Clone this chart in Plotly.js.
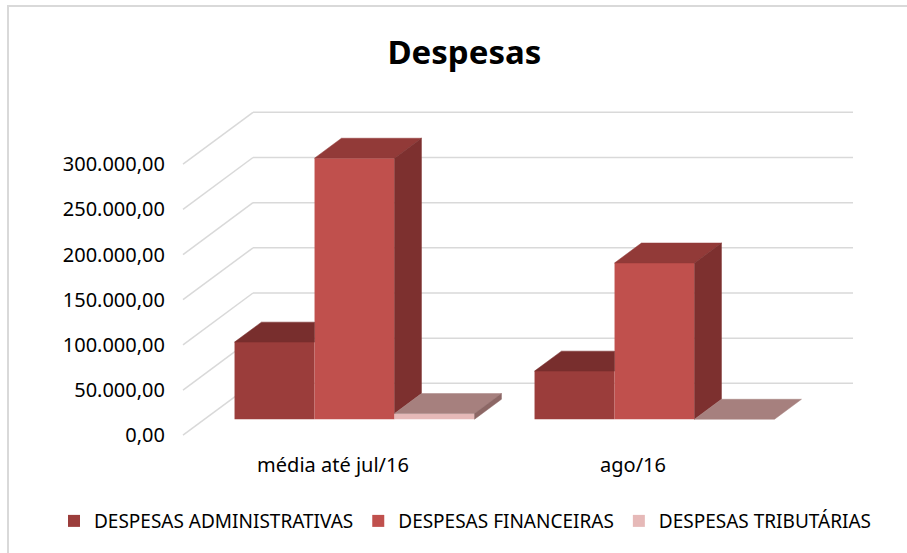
<!DOCTYPE html>
<html>
<head>
<meta charset="utf-8">
<script src="https://cdn.plot.ly/plotly-3.0.1.min.js"></script>
<style>
  html, body { margin: 0; padding: 0; background: #ffffff; }
  #chart { width: 907px; height: 553px; position: relative; }
  #frame { position: absolute; left: 7px; top: 5px; width: 1000px; height: 1000px;
           border-left: 2px solid #d9d9d9; border-top: 2px solid #d9d9d9; pointer-events: none; }
</style>
</head>
<body>
<div id="chart"></div>
<div id="frame"></div>
<script>
// ---- data ----
const categories = ['média até jul/16', 'ago/16'];
const seriesNames = ['DESPESAS ADMINISTRATIVAS', 'DESPESAS FINANCEIRAS', 'DESPESAS TRIBUTÁRIAS'];
const despesasAdministrativas = [85400, 53300];
const despesasFinanceiras = [289000, 173000];
const despesasTributarias = [6300, 0];
const yTickValues = [0, 50000, 100000, 150000, 200000, 250000, 300000];

// ---- styling / geometry ----
const frontColors = ['#9B3D3B', '#C0504D', '#E6B9B8'];
const topColors   = ['#782E2D', '#923A38', '#A6807E'];
const sideColors  = ['#6E2A29', '#7D302F', '#8C6765'];
const gridColor = '#d9d9d9';
const fontFamily = '"Noto Sans", "Open Sans", sans-serif';

const series = [despesasAdministrativas, despesasFinanceiras, despesasTributarias];
const DX = 0.23333;   // full floor depth, in category units
const DY = 57420;     // full floor depth, in value units
const F1 = 0.3077, F2 = 0.6923;  // bar front / back depth fractions
const W = 0.26667;    // bar width (category units)
const bdx = (F2 - F1) * DX, bdy = (F2 - F1) * DY;
const y0 = F1 * DY;

function fmt(v) {
  const s = Math.round(v).toString().replace(/\B(?=(\d{3})+(?!\d))/g, '.');
  return s + ',00';
}

const traces = [];
// front faces as bars
series.forEach((vals, s) => {
  traces.push({
    type: 'bar',
    name: seriesNames[s],
    x: categories.map((c, i) => i + (s - 1) * W + F1 * DX),
    y: vals,
    base: vals.map(() => y0),
    width: vals.map(() => W),
    marker: { color: frontColors[s], line: { width: 0 } },
    hoverinfo: 'skip'
  });
});

// top and side faces
categories.forEach((c, i) => {
  series.forEach((vals, s) => {
    const v = vals[i];
    const xl = i + (s - 1) * W - W / 2 + F1 * DX;
    const xr = xl + W;
    const yf = y0 + v;
    const hasNext = s < series.length - 1;
    const vn = hasNext ? series[s + 1][i] : 0;
    let tx, ty;
    if (hasNext && vn >= v) {
      tx = [xl, xr, xr, xl + bdx, xl];
      ty = [yf, yf, yf + bdy, yf + bdy, yf];
    } else {
      tx = [xl, xr, xr + bdx, xl + bdx, xl];
      ty = [yf, yf, yf + bdy, yf + bdy, yf];
    }
    traces.push({
      type: 'scatter', mode: 'lines', fill: 'toself', x: tx, y: ty,
      fillcolor: topColors[s], line: { color: topColors[s], width: 0.5 },
      showlegend: false, hoverinfo: 'skip'
    });
    if (!(hasNext && vn >= v) && v - vn > 0) {
      const yb = y0 + vn;
      traces.push({
        type: 'scatter', mode: 'lines', fill: 'toself',
        x: [xr, xr, xr + bdx, xr + bdx, xr],
        y: [yb, yf, yf + bdy, yb + bdy, yb],
        fillcolor: sideColors[s], line: { color: sideColors[s], width: 0.5 },
        showlegend: false, hoverinfo: 'skip'
      });
    }
  });
});

// 3D gridlines (side wall diagonals + back wall horizontals)
const xLeft = -0.5, xRight = categories.length - 0.5 + DX;
const shapes = [];
yTickValues.forEach(v => {
  shapes.push({ type: 'line', layer: 'below', xref: 'x', yref: 'y',
    x0: xLeft, y0: v, x1: xLeft + DX, y1: v + DY, line: { color: gridColor, width: 1.5 } });
  shapes.push({ type: 'line', layer: 'below', xref: 'x', yref: 'y',
    x0: xLeft + DX, y0: v + DY, x1: xRight, y1: v + DY, line: { color: gridColor, width: 1.5 } });
});

const layout = {
  width: 907, height: 553,
  margin: { l: 180, r: 52, t: 110, b: 116 },
  paper_bgcolor: '#ffffff', plot_bgcolor: '#ffffff',
  barmode: 'overlay',
  showlegend: true,
  title: { text: 'Despesas', x: 0.512, xanchor: 'center', y: 1 - 52 / 553, yanchor: 'middle',
           font: { family: fontFamily, size: 33, color: '#000000', weight: 700 } },
  xaxis: { range: [-0.51, 1.74], tickvals: categories.map((c, i) => i), ticktext: categories,
           showgrid: false, zeroline: false, showline: false, ticks: '', ticklabelstandoff: 14,
           tickfont: { family: fontFamily, size: 20, color: '#000000' }, fixedrange: true },
  yaxis: { range: [-2000, 360000], tickvals: yTickValues, ticktext: yTickValues.map(fmt),
           showgrid: false, zeroline: false, showline: false, ticks: '', ticklabelstandoff: 14,
           tickfont: { family: fontFamily, size: 20, color: '#000000' }, fixedrange: true },
  legend: { orientation: 'h', x: -0.1867, xanchor: 'left', y: -0.257, yanchor: 'middle',
            font: { family: fontFamily, size: 19, color: '#000000' }, traceorder: 'normal',
            itemwidth: 30 },
  shapes: shapes
};

Plotly.newPlot('chart', traces, layout, { staticPlot: true, displayModeBar: false });
</script>
</body>
</html>
